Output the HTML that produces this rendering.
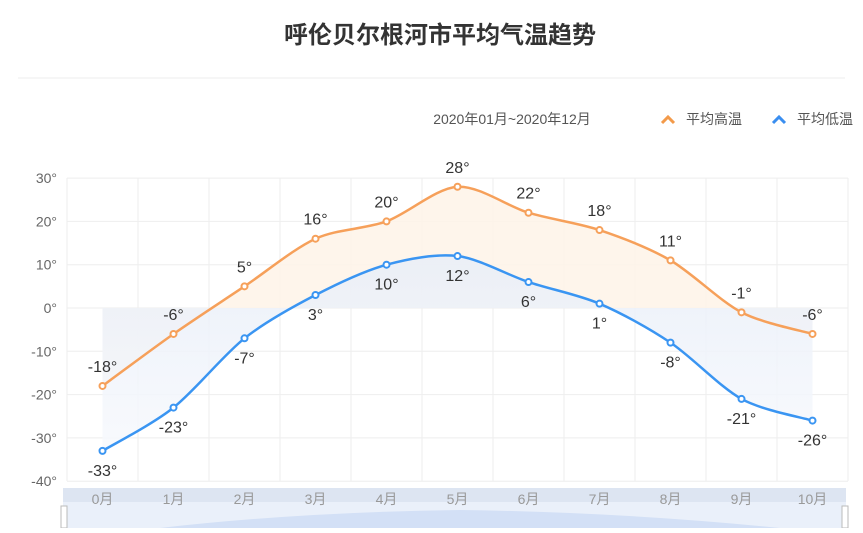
<!DOCTYPE html>
<html><head><meta charset="utf-8"><style>
body{margin:0;background:#fff;width:863px;height:528px;overflow:hidden;font-family:"Liberation Sans","Noto Sans CJK SC",sans-serif}
</style></head><body>
<svg id="s" width="863" height="528" xmlns="http://www.w3.org/2000/svg" font-family="Liberation Sans, Noto Sans CJK SC, sans-serif">
<defs>
<linearGradient id="bg" x1="0" y1="0" x2="0" y2="1"><stop offset="0" stop-color="#e8eef8"/><stop offset="1" stop-color="#f7f9fd"/></linearGradient>
</defs>
<text x="440" y="43" text-anchor="middle" font-size="24" font-weight="bold" fill="#333">呼伦贝尔根河市平均气温趋势</text>
<line x1="18" y1="78" x2="845" y2="78" stroke="#eee"/>
<text x="512" y="124" text-anchor="middle" font-size="14" fill="#555">2020年01月~2020年12月</text>
<path d="M662 123 L668 117 L674 123" fill="none" stroke="#f39a4a" stroke-width="3"/>
<text x="686" y="124" font-size="14" fill="#555">平均高温</text>
<path d="M773 123 L779 117 L785 123" fill="none" stroke="#3a8ef0" stroke-width="3"/>
<text x="797" y="124" font-size="14" fill="#555">平均低温</text>
<g id="g"></g>
</svg>
<script>
var ns="http://www.w3.org/2000/svg",g=document.getElementById('g');
function el(t,a,tx){var e=document.createElementNS(ns,t);for(var k in a)e.setAttribute(k,a[k]);if(tx!=null)e.textContent=tx;g.appendChild(e);return e;}
var L=67,R=848,T=178;
function Y(v){return 308-4.33*v;}
function X(i){return 102.5+71*i;}
for(var v=30;v>=-40;v-=10){el('line',{x1:L,x2:R,y1:Y(v),y2:Y(v),stroke:'#eee'});el('text',{x:57,y:Y(v)+5,'text-anchor':'end','font-size':14,fill:'#666'},v+'°');}
for(var i=0;i<=11;i++){el('line',{x1:L+71*i,x2:L+71*i,y1:T,y2:481,stroke:'#eee'});}
var hi=[-18,-6,5,16,20,28,22,18,11,-1,-6],lo=[-33,-23,-7,3,10,12,6,1,-8,-21,-26];
function path(d){var p=d.map(function(v,i){return [X(i),Y(v)]});var s='M'+p[0][0]+' '+p[0][1];var t=0.3;
for(var i=0;i<p.length-1;i++){var p0=p[i-1]||p[i],p1=p[i],p2=p[i+1],p3=p[i+2]||p2;
s+=' C'+(p1[0]+(p2[0]-p0[0])*t/2)+' '+(p1[1]+(p2[1]-p0[1])*t/2)+' '+(p2[0]-(p3[0]-p1[0])*t/2)+' '+(p2[1]-(p3[1]-p1[1])*t/2)+' '+p2[0]+' '+p2[1];}
return s;}
var ph=path(hi),pl=path(lo);
el('path',{d:ph+' L'+X(10)+' '+Y(0)+' L'+X(0)+' '+Y(0)+'Z',fill:'#fef3e8',opacity:0.85});
el('path',{d:pl+' L'+X(10)+' '+Y(0)+' L'+X(0)+' '+Y(0)+'Z',fill:'url(#bg)',opacity:0.85});
el('path',{d:ph,fill:'none',stroke:'#f6a05a','stroke-width':2.5});
el('path',{d:pl,fill:'none',stroke:'#3a95f2','stroke-width':2.5});
hi.forEach(function(v,i){el('circle',{cx:X(i),cy:Y(v),r:3,fill:'#fff',stroke:'#f6a05a','stroke-width':2});el('text',{x:X(i),y:Y(v)-14,'text-anchor':'middle','font-size':16,fill:'#333'},v+'°');});
lo.forEach(function(v,i){el('circle',{cx:X(i),cy:Y(v),r:3,fill:'#fff',stroke:'#3a95f2','stroke-width':2});el('text',{x:X(i),y:Y(v)+25,'text-anchor':'middle','font-size':16,fill:'#333'},v+'°');});
el('rect',{x:63,y:488,width:783,height:40,fill:'#eaf0fa'});
el('rect',{x:63,y:488,width:783,height:14,fill:'#dde5f2'});
el('path',{d:'M160 528 Q300 512 460 510 Q620 512 780 528Z',fill:'#d3e0f6'});
el('rect',{x:61,y:506,width:6,height:22,fill:'#fff',stroke:'#bbb'});
el('rect',{x:842,y:506,width:6,height:22,fill:'#fff',stroke:'#bbb'});
for(var i=0;i<=10;i++)el('text',{x:X(i),y:504,'text-anchor':'middle','font-size':14,fill:'#999'},i+'月');
</script>
</body></html>
